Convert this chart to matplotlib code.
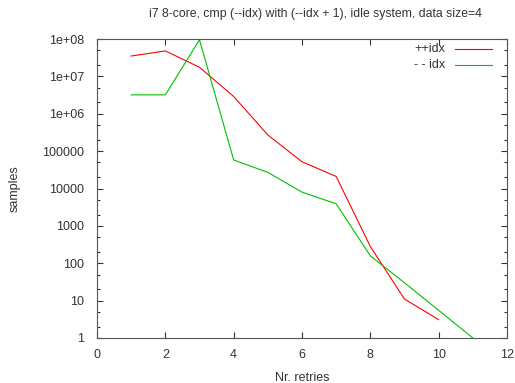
import numpy as np
import matplotlib.pyplot as plt
from matplotlib.ticker import FixedLocator, NullFormatter

# values (log scale)
retries_inc = [1, 2, 3, 4, 5, 6, 7, 8, 9, 10]
samples_inc = [3.5e7, 4.8e7, 1.75e7, 2.9e6, 2.7e5, 5.2e4, 2.1e4, 280, 11, 3.1]

retries_dec = [1, 2, 3, 4, 5, 6, 7, 8, 9, 10, 11]
samples_dec = [3.2e6, 3.2e6, 9.5e7, 5.8e4, 2.7e4, 8000, 3900, 158, 30, 5.5, 1]

ytick_vals = [1, 10, 100, 1000, 1e4, 1e5, 1e6, 1e7, 1e8]
ytick_labels = ['1', '10', '100', '1000', '10000', '100000', '1e+06', '1e+07', '1e+08']
xtick_vals = [0, 2, 4, 6, 8, 10, 12]

plt.rcParams['font.family'] = ['Liberation Sans', 'DejaVu Sans']
plt.rcParams['font.size'] = 9

txt = '#333333'
fig = plt.figure(figsize=(5.15, 3.83), dpi=100)
ax = fig.add_axes([97/515, 1 - 338/383, (507 - 97)/515, (338 - 39)/383])

ax.plot(retries_inc, samples_inc, color='#ff0000', lw=0.8)
ax.plot(retries_dec, samples_dec, color='#00c000', lw=0.8)

ax.set_yscale('log')
ax.set_xlim(0, 12)
ax.set_ylim(1, 1e8)

ax.yaxis.set_major_locator(FixedLocator(ytick_vals))
ax.set_yticklabels(ytick_labels)
minor = [m * 10**e for e in range(0, 8) for m in (2, 5)]
ax.yaxis.set_minor_locator(FixedLocator(minor))
ax.yaxis.set_minor_formatter(NullFormatter())
ax.xaxis.set_major_locator(FixedLocator(xtick_vals))
ax.set_xticklabels([str(v) for v in xtick_vals])

ax.tick_params(which='both', direction='in', top=True, right=True,
               colors=txt, labelcolor=txt)
ax.tick_params(which='major', length=4, width=0.8)
ax.tick_params(which='minor', length=2, width=0.8)
ax.tick_params(axis='y', which='major', pad=9)
ax.tick_params(axis='x', which='major', pad=8)
for s in ax.spines.values():
    s.set_color('#555555')
    s.set_linewidth(0.8)

ax.set_xlabel('Nr. retries', color=txt, labelpad=8)
ax.set_ylabel('samples', color=txt, labelpad=15.5)
fig.text(315/515, 1 - 14/383, 'i7 8-core, cmp (--idx) with (--idx + 1), idle system, data size=4',
         color=txt, fontsize=8.8, ha='center', va='center')

# legend drawn gnuplot-style: right-aligned key text, sample line to its right
legend_items = [('++idx', '#ff0000'), ('- - idx', '#00c000')]
for i, (lab, col) in enumerate(legend_items):
    yf = 1 - (49 + 16 * i) / 383
    fig.text(445/515, yf, lab, color=txt, ha='right', va='center')
    fig.add_artist(plt.Line2D([455/515, 492/515], [yf, yf], color=col, lw=0.8))

fig.savefig('out.png', dpi=100)
